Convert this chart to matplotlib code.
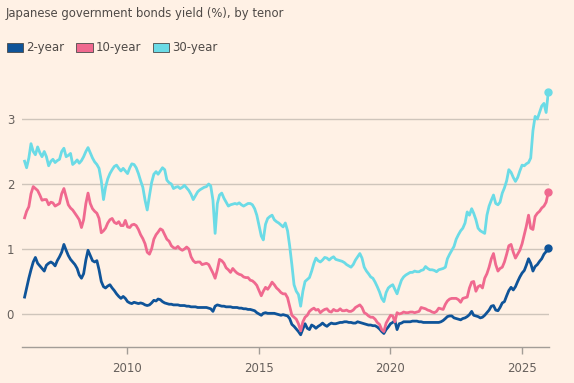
import numpy as np
import pandas as pd
import matplotlib
matplotlib.use("Agg")
import matplotlib.pyplot as plt
import matplotlib.dates as mdates
from matplotlib.patches import Patch

# monthly readings, Jan 2006 .. Dec 2025 (one row per year)
two_year = [
    0.26, 0.40, 0.55, 0.68, 0.80, 0.87, 0.78, 0.74, 0.70, 0.66, 0.75, 0.78,
    0.80, 0.78, 0.74, 0.82, 0.88, 0.95, 1.07, 0.98, 0.90, 0.84, 0.80, 0.76,
    0.70, 0.60, 0.55, 0.62, 0.83, 0.98, 0.90, 0.82, 0.80, 0.82, 0.68, 0.50,
    0.42, 0.40, 0.43, 0.45, 0.40, 0.36, 0.31, 0.27, 0.24, 0.27, 0.24, 0.19,
    0.17, 0.16, 0.18, 0.17, 0.16, 0.17, 0.16, 0.14, 0.13, 0.14, 0.17, 0.21,
    0.20, 0.23, 0.22, 0.19, 0.17, 0.16, 0.15, 0.15, 0.14, 0.14, 0.14, 0.13,
    0.13, 0.13, 0.12, 0.12, 0.11, 0.11, 0.11, 0.10, 0.10, 0.10, 0.10, 0.10,
    0.09, 0.08, 0.04, 0.12, 0.14, 0.13, 0.12, 0.12, 0.11, 0.11, 0.11, 0.10,
    0.10, 0.10, 0.09, 0.09, 0.08, 0.08, 0.07, 0.07, 0.06, 0.05, 0.02, 0.00,
    -0.02, 0.01, 0.02, 0.01, 0.01, 0.01, 0.01, 0.00, -0.01, -0.02, -0.01, -0.02,
    -0.03, -0.07, -0.16, -0.19, -0.23, -0.27, -0.32, -0.23, -0.15, -0.22, -0.24, -0.17,
    -0.19, -0.22, -0.19, -0.17, -0.14, -0.17, -0.19, -0.16, -0.14, -0.15, -0.15, -0.14,
    -0.13, -0.13, -0.12, -0.12, -0.13, -0.13, -0.14, -0.14, -0.12, -0.13, -0.14, -0.15,
    -0.16, -0.17, -0.17, -0.18, -0.18, -0.20, -0.23, -0.27, -0.30, -0.24, -0.20, -0.15,
    -0.13, -0.10, -0.24, -0.15, -0.14, -0.12, -0.12, -0.12, -0.12, -0.11, -0.11, -0.11,
    -0.12, -0.12, -0.13, -0.13, -0.13, -0.13, -0.13, -0.13, -0.13, -0.13, -0.12, -0.10,
    -0.07, -0.04, -0.03, -0.03, -0.06, -0.07, -0.08, -0.09, -0.07, -0.06, -0.04, -0.01,
    0.04, -0.02, -0.03, -0.04, -0.06, -0.05, -0.02, 0.02, 0.06, 0.12, 0.13, 0.06,
    0.05, 0.10, 0.17, 0.19, 0.28, 0.36, 0.41, 0.37, 0.42, 0.50, 0.57, 0.63,
    0.67, 0.75, 0.85, 0.78, 0.66, 0.73, 0.76, 0.81, 0.85, 0.92, 0.96, 1.02,
]

ten_year = [
    1.48, 1.58, 1.65, 1.85, 1.96, 1.93, 1.90, 1.83, 1.75, 1.76, 1.76, 1.68,
    1.72, 1.71, 1.66, 1.68, 1.70, 1.85, 1.93, 1.80, 1.68, 1.63, 1.60, 1.55,
    1.50, 1.45, 1.33, 1.45, 1.70, 1.86, 1.70, 1.62, 1.58, 1.55, 1.47, 1.25,
    1.28, 1.32, 1.40, 1.45, 1.47, 1.41, 1.39, 1.42, 1.36, 1.36, 1.44, 1.34,
    1.33, 1.37, 1.38, 1.36, 1.30, 1.22, 1.16, 1.08, 0.95, 0.92, 1.00, 1.15,
    1.22, 1.26, 1.31, 1.29, 1.22, 1.15, 1.12, 1.05, 1.02, 1.01, 1.04, 1.00,
    0.98, 1.00, 1.03, 1.00, 0.88, 0.82, 0.79, 0.80, 0.80, 0.76, 0.77, 0.78,
    0.76, 0.70, 0.63, 0.55, 0.68, 0.84, 0.82, 0.78, 0.71, 0.68, 0.64, 0.70,
    0.66, 0.63, 0.61, 0.60, 0.57, 0.56, 0.56, 0.52, 0.51, 0.48, 0.44, 0.36,
    0.28, 0.35, 0.41, 0.38, 0.43, 0.49, 0.45, 0.40, 0.37, 0.33, 0.31, 0.31,
    0.25, 0.12, -0.02, -0.05, -0.08, -0.15, -0.26, -0.12, -0.05, -0.02, 0.04, 0.07,
    0.09, 0.06, 0.07, 0.02, 0.05, 0.07, 0.08, 0.04, 0.03, 0.07, 0.05, 0.05,
    0.08, 0.05, 0.05, 0.06, 0.04, 0.04, 0.06, 0.10, 0.12, 0.14, 0.10, 0.02,
    0.00, -0.03, -0.05, -0.05, -0.08, -0.13, -0.16, -0.24, -0.27, -0.14, -0.08, -0.02,
    -0.03, -0.12, 0.02, 0.00, 0.01, 0.03, 0.02, 0.02, 0.03, 0.03, 0.02, 0.03,
    0.04, 0.10, 0.09, 0.08, 0.06, 0.05, 0.03, 0.02, 0.04, 0.09, 0.08, 0.07,
    0.15, 0.20, 0.23, 0.24, 0.24, 0.24, 0.22, 0.18, 0.24, 0.25, 0.26, 0.40,
    0.49, 0.50, 0.35, 0.42, 0.44, 0.40, 0.55, 0.62, 0.72, 0.85, 0.93, 0.76,
    0.66, 0.70, 0.72, 0.80, 0.92, 1.05, 1.07, 0.95, 0.86, 0.92, 0.98, 1.08,
    1.22, 1.35, 1.52, 1.32, 1.30, 1.50, 1.55, 1.58, 1.63, 1.66, 1.72, 1.88,
]

thirty_year = [
    2.35, 2.25, 2.40, 2.62, 2.50, 2.45, 2.57, 2.48, 2.42, 2.50, 2.42, 2.28,
    2.35, 2.38, 2.33, 2.36, 2.38, 2.50, 2.55, 2.42, 2.44, 2.47, 2.30, 2.33,
    2.37, 2.32, 2.36, 2.42, 2.50, 2.56, 2.48, 2.40, 2.34, 2.30, 2.24, 2.05,
    1.76, 1.95, 2.08, 2.16, 2.22, 2.27, 2.29, 2.24, 2.20, 2.24, 2.20, 2.16,
    2.25, 2.31, 2.30, 2.25, 2.16, 2.05, 1.95, 1.75, 1.60, 1.82, 2.02, 2.15,
    2.19, 2.15, 2.20, 2.25, 2.22, 2.06, 2.02, 2.00, 1.93, 1.95, 1.96, 1.93,
    1.95, 1.98, 1.94, 1.90, 1.84, 1.76, 1.82, 1.88, 1.91, 1.93, 1.95, 1.96,
    2.00, 1.97, 1.75, 1.24, 1.70, 1.83, 1.86, 1.78, 1.72, 1.66, 1.68, 1.69,
    1.70, 1.69, 1.71, 1.68, 1.66, 1.68, 1.70, 1.70, 1.68, 1.62, 1.52, 1.36,
    1.20, 1.14, 1.38, 1.47, 1.50, 1.52, 1.45, 1.42, 1.40, 1.37, 1.34, 1.40,
    1.28, 1.05, 0.76, 0.45, 0.35, 0.30, 0.12, 0.35, 0.50, 0.53, 0.56, 0.66,
    0.78, 0.86, 0.82, 0.80, 0.83, 0.87, 0.86, 0.83, 0.86, 0.88, 0.84, 0.83,
    0.82, 0.81, 0.79, 0.76, 0.74, 0.72, 0.76, 0.83, 0.88, 0.93, 0.86, 0.72,
    0.66, 0.62, 0.57, 0.55, 0.49, 0.42, 0.34, 0.24, 0.19, 0.33, 0.40, 0.43,
    0.45, 0.38, 0.31, 0.42, 0.52, 0.57, 0.60, 0.62, 0.64, 0.64, 0.66, 0.65,
    0.65, 0.67, 0.68, 0.73, 0.70, 0.68, 0.68, 0.67, 0.65, 0.68, 0.69, 0.70,
    0.72, 0.85, 0.92, 0.98, 1.04, 1.15, 1.22, 1.28, 1.32, 1.40, 1.57, 1.52,
    1.62, 1.55, 1.45, 1.32, 1.28, 1.26, 1.24, 1.52, 1.66, 1.75, 1.83, 1.70,
    1.68, 1.72, 1.86, 1.94, 2.05, 2.22, 2.18, 2.10, 2.04, 2.10, 2.20, 2.29,
    2.28, 2.31, 2.33, 2.40, 2.82, 3.04, 3.00, 3.10, 3.20, 3.24, 3.10, 3.42,
]

series_names = ["2-year", "10-year", "30-year"]
series_colors = ["#0f5499", "#f0698f", "#6bdbe6"]
y_ticks = [0, 1, 2, 3]
x_tick_years = [2010, 2015, 2020, 2025]

dates = pd.date_range("2006-01-15", periods=len(two_year), freq="MS") + pd.Timedelta(days=7)

bg = "#fff1e5"
text_col = "#66605c"

fig = plt.figure(figsize=(5.74, 3.83), dpi=100, facecolor=bg)
ax = fig.add_axes([22 / 574, 1 - 347 / 383, 527 / 574, 262 / 383])
ax.set_facecolor(bg)

for y in y_ticks:
    ax.axhline(y, color="#cfc5bb", lw=1, zorder=1)

for vals, name, col in zip([two_year, ten_year, thirty_year], series_names, series_colors):
    ax.plot(dates, vals, color=col, lw=2.0, zorder=3, solid_joinstyle="round")
    ax.plot(dates[-1], vals[-1], "o", color=col, ms=5, zorder=4, clip_on=False)

ax.set_ylim(-0.508, 3.523)
ax.set_xlim(pd.Timestamp("2006-01-03"), pd.Timestamp("2026-01-17"))

ax.set_yticks(y_ticks)
ax.set_yticklabels([str(v) for v in y_ticks])
ax.tick_params(axis="y", length=0, pad=11, labelsize=8.5, labelcolor=text_col)
for lab in ax.get_yticklabels():
    lab.set_horizontalalignment("left")

ax.set_xticks([pd.Timestamp(f"{yr}-01-01") for yr in x_tick_years])
ax.xaxis.set_major_formatter(mdates.DateFormatter("%Y"))
ax.tick_params(axis="x", length=5, width=1, color="#a39d97", pad=6,
               labelsize=8.5, labelcolor=text_col)

for side in ["top", "right", "left"]:
    ax.spines[side].set_visible(False)
ax.spines["bottom"].set_color("#a39d97")
ax.spines["bottom"].set_linewidth(1)

fig.text(6 / 574, 1 - 14 / 383, "Japanese government bonds yield (%), by tenor",
         fontsize=8.4, color="#4f4a47", va="center", ha="left")

handles = [Patch(facecolor=c, edgecolor="#4a4a4a", linewidth=0.6) for c in series_colors]
fig.legend(handles, series_names, loc="center left", ncol=3, frameon=False,
           bbox_to_anchor=(2 / 574, 1 - 48 / 383), fontsize=8.5,
           handlelength=1.4, handleheight=0.75, handletextpad=0.25,
           columnspacing=1.0, labelcolor="#4f4a47", borderaxespad=0)

plt.savefig("out.png", dpi=100, facecolor=bg)
